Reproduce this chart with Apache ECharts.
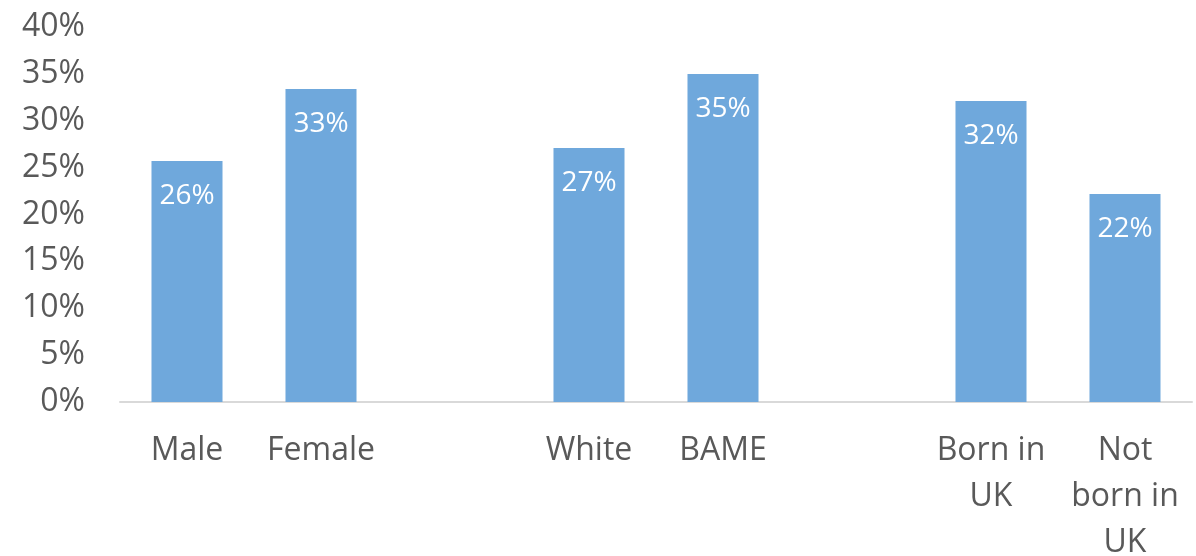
<!DOCTYPE html>
<html>
<head>
<meta charset="utf-8">
<style>
  html, body { margin: 0; padding: 0; background: #ffffff; }
  #chart { width: 1196px; height: 556px; }
</style>
<script src="https://cdn.jsdelivr.net/npm/echarts@6/dist/echarts.min.js"></script>
</head>
<body>
<div id="chart"></div>
<script>
// Groups are separated by blank categories
const categories = ['Male', 'Female', '', 'White', 'BAME', '', 'Born in\nUK', 'Not\nborn in\nUK'];
const shares = [25.7, 33.4, null, 27.1, 35.0, null, 32.1, 22.2];
const yTicks = { min: 0, max: 40, step: 5 };

const FONT = '"Open Sans", sans-serif';
const TEXT = '#595959';
const BAR = '#6FA8DC';

const chart = echarts.init(document.getElementById('chart'));
chart.setOption({
  animation: false,
  grid: { left: 120, right: 4, top: 27, bottom: 154, containLabel: false, outerBoundsMode: 'none' },
  xAxis: {
    type: 'category',
    data: categories,
    axisLine: { show: true, lineStyle: { color: '#d9d9d9', width: 2 } },
    axisTick: { show: false },
    axisLabel: {
      interval: 0,
      color: TEXT,
      fontFamily: FONT,
      fontSize: 32,
      lineHeight: 46,
      margin: 26
    }
  },
  yAxis: {
    type: 'value',
    min: yTicks.min,
    max: yTicks.max,
    interval: yTicks.step,
    splitLine: { show: false },
    axisLine: { show: false },
    axisTick: { show: false },
    axisLabel: {
      color: TEXT,
      fontFamily: FONT,
      fontSize: 32,
      margin: 35,
      formatter: '{value}%'
    }
  },
  series: [{
    type: 'bar',
    data: shares,
    barWidth: '53%',
    itemStyle: { color: BAR },
    label: {
      show: true,
      position: 'insideTop',
      distance: 21,
      color: '#ffffff',
      fontFamily: FONT,
      fontSize: 28,
      formatter: p => p.value == null ? '' : Math.round(p.value) + '%'
    }
  }]
});
</script>
</body>
</html>
